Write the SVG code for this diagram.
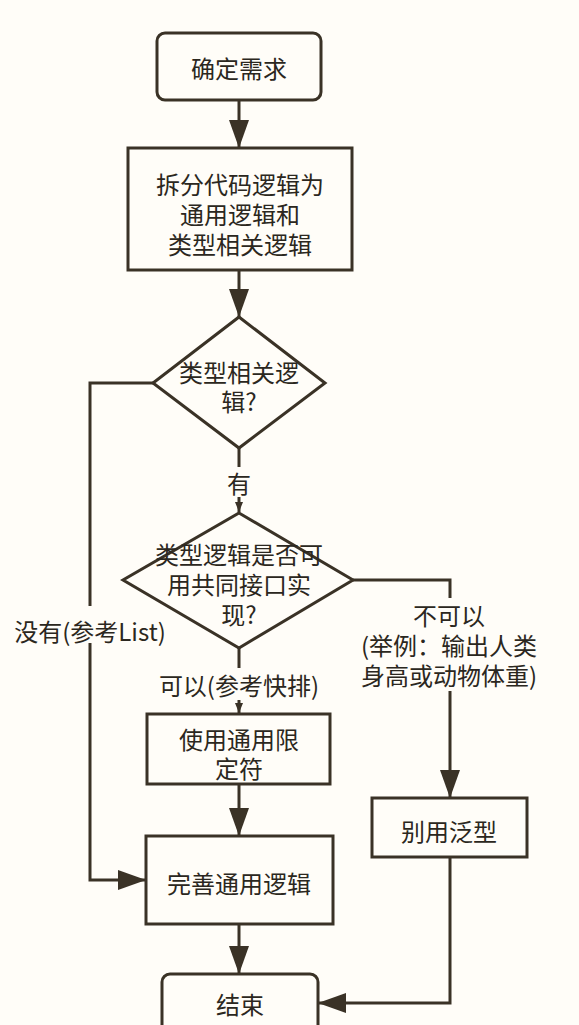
<svg xmlns="http://www.w3.org/2000/svg" width="579" height="1025" viewBox="0 0 579 1025">
<style>
.bg{fill:#fffdf8}
.n{fill:#fffdf8;stroke:#3a3226;stroke-width:3}
.t{font-family:"Noto Sans CJK SC","Noto Sans",sans-serif;font-size:24px;fill:#2b2720;text-anchor:middle;dominant-baseline:central}
.c{fill:none;stroke:#3a3226;stroke-width:3}
.lb{fill:#fffdf8}
</style>
<defs>
<marker id="big" markerUnits="userSpaceOnUse" markerWidth="28" markerHeight="20" refX="28" refY="10" orient="auto">
<path d="M0,0 L28,10 L0,20 z" fill="#3a3226"/>
</marker>
<marker id="small" markerUnits="userSpaceOnUse" markerWidth="10" markerHeight="8" refX="10" refY="4" orient="auto">
<path d="M0,0 L10,4 L0,8 z" fill="#3a3226"/>
</marker>
</defs>
<rect class="bg" x="0" y="0" width="579" height="1025"/>
<g id="connectors">
<path class="c" d="M239,100 V148" marker-end="url(#big)"/>
<path class="c" d="M239,270 V317" marker-end="url(#big)"/>
<path class="c" d="M239,448 V512" marker-end="url(#small)"/>
<path class="c" d="M153,383 H90 V880 H146" marker-end="url(#big)"/>
<path class="c" d="M353,580 H450 V798" marker-end="url(#big)"/>
<path class="c" d="M239,648 V713" marker-end="url(#small)"/>
<path class="c" d="M239,784 V836" marker-end="url(#big)"/>
<path class="c" d="M239,924 V974" marker-end="url(#big)"/>
<path class="c" d="M450,857 V1003 H318" marker-end="url(#big)"/>
<rect class="lb" x="226" y="467" width="26" height="30"/>
<text class="t" x="239" y="482">有</text>
<rect class="lb" x="8" y="606" width="164" height="37"/>
<text class="t" x="90" y="630">没有(参考List)</text>
<rect class="lb" x="153" y="668" width="172" height="32"/>
<text class="t" x="239" y="684">可以(参考快排)</text>
<rect class="lb" x="354" y="598" width="188" height="93"/>
<text class="t" x="449" y="614">不可以<tspan x="449" dy="30">(举例：输出人类</tspan><tspan x="449" dy="30">身高或动物体重)</tspan></text>
</g>
<g id="start">
<rect class="n" x="157" y="33" width="164" height="67" rx="8"/>
<text class="t" x="239" y="67">确定需求</text>
</g>
<g id="split">
<rect class="n" x="128" y="148" width="224" height="122"/>
<text class="t" x="240" y="183">拆分代码逻辑为<tspan x="240" dy="30">通用逻辑和</tspan><tspan x="240" dy="30">类型相关逻辑</tspan></text>
</g>
<g id="decision1">
<path class="n" d="M239,317 L325,383 L239,448 L153,383 z"/>
<text class="t" x="239" y="371">类型相关逻<tspan x="239" dy="29">辑?</tspan></text>
</g>
<g id="decision2">
<path class="n" d="M239,513 L353,580 L239,648 L123,580 z"/>
<text class="t" x="239" y="553">类型逻辑是否可<tspan x="239" dy="30">用共同接口实</tspan><tspan x="239" dy="30">现?</tspan></text>
</g>
<g id="bounded">
<rect class="n" x="147" y="714" width="183" height="70"/>
<text class="t" x="239" y="738">使用通用限<tspan x="239" dy="29">定符</tspan></text>
</g>
<g id="nogeneric">
<rect class="n" x="372" y="798" width="155" height="59"/>
<text class="t" x="449" y="830">别用泛型</text>
</g>
<g id="refine">
<rect class="n" x="146" y="836" width="187" height="88"/>
<text class="t" x="239" y="882">完善通用逻辑</text>
</g>
<g id="end">
<rect class="n" x="162" y="974" width="156" height="70" rx="8"/>
<text class="t" x="240" y="1003">结束</text>
</g>
</svg>
